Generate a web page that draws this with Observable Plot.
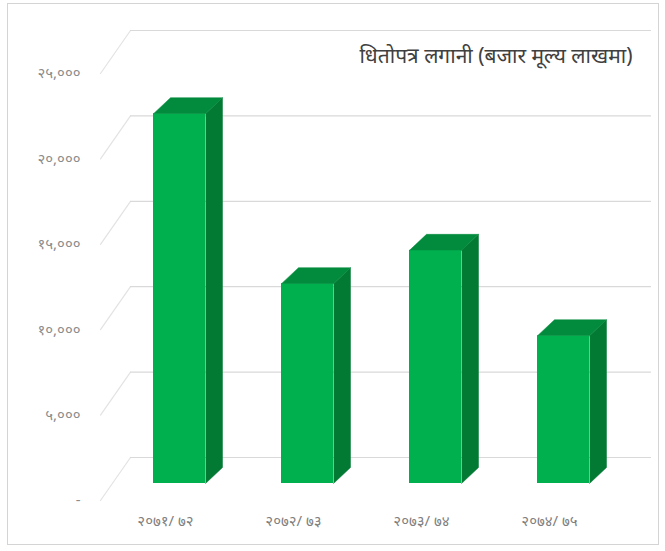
<!DOCTYPE html>
<html><head><meta charset="utf-8">
<script src="https://cdn.jsdelivr.net/npm/d3@7"></script>
<script src="https://cdn.jsdelivr.net/npm/@observablehq/plot@0.6"></script>
<style>
body{margin:0;background:#fff;}
#wrap{position:relative;width:665px;height:551px;overflow:hidden;}
#wrap svg{position:absolute;left:0;top:0;}
#frame{position:absolute;left:7px;top:3px;width:650px;height:540px;border:1.5px solid #d4d4d4;pointer-events:none;}
</style></head><body><div id="wrap"><div id="frame"></div></div>
<script>
// ---- data ----
const categories = ["२०७१/ ७२", "२०७२/ ७३", "२०७३/ ७४", "२०७४/ ७५"];
const values = [21650, 11700, 13650, 8650];
const yTicks = [0, 5000, 10000, 15000, 20000, 25000];
const yTickLabels = ["-", "५,०००", "१०,०००", "१५,०००", "२०,०००", "२५,०००"];
const title = "धितोपत्र लगानी (बजार मूल्य लाखमा)";

// ---- geometry (pseudo-3D offsets, in scale units) ----
const yMax = 25000, yPx = 427;          // y range span in px
const u = yMax / yPx;                    // value units per pixel
const colPx = 128;                       // px per category step
const H = 26 / colPx;                    // half bar width
const DX = 17 / colPx, DY = 16 * u;      // bar depth
const BASE = 17 * u;                     // bar base above front plane
const WX = 30 / colPx, WY = 43 * u;      // back wall offset
const XF = (100 - 115) / colPx - 0.5;    // front edge of side wall
const XR = (650 - 115) / colPx - 0.5;    // right edge of back wall

const diag = yTicks.flatMap(v => [{t: v, x: XF, y: v}, {t: v, x: XF + WX, y: v + WY}]);
const horiz = yTicks.flatMap(v => [{t: v, x: XF + WX, y: v + WY}, {t: v, x: XR, y: v + WY}]);
const sides = values.flatMap((v, i) => [
  {i, x: i + H, y: BASE}, {i, x: i + H + DX, y: BASE + DY},
  {i, x: i + H + DX, y: v + BASE + DY}, {i, x: i + H, y: v + BASE}]);
const tops = values.flatMap((v, i) => [
  {i, x: i - H, y: v + BASE}, {i, x: i - H + DX, y: v + BASE + DY},
  {i, x: i + H + DX, y: v + BASE + DY}, {i, x: i + H, y: v + BASE}]);

const font = "'Noto Sans', 'DejaVu Sans', sans-serif";
const chart = Plot.plot({
  width: 665, height: 551,
  marginLeft: 88, marginRight: 15, marginTop: 20, marginBottom: 40,
  style: {background: "transparent", fontFamily: font},
  x: {domain: [-0.5, 3.5], range: [115, 627], axis: null},
  y: {domain: [0, yMax], range: [500, 500 - yPx], axis: null},
  marks: [
    Plot.line(diag, {x: "x", y: "y", z: "t", stroke: "#e3e3e3", strokeWidth: 1.2}),
    Plot.line(horiz, {x: "x", y: "y", z: "t", stroke: "#d9d9d9", strokeWidth: 1.2}),
    Plot.rect(values, {x1: (d, i) => i - H, x2: (d, i) => i + H, y1: () => BASE, y2: d => d + BASE, fill: "#00b04f"}),
    Plot.line(sides, {x: "x", y: "y", z: "i", fill: "#037a34", stroke: "#037a34", strokeWidth: 0.5}),
    Plot.line(tops, {x: "x", y: "y", z: "i", fill: "#028b3c", stroke: "#028b3c", strokeWidth: 0.5}),
    Plot.text(yTicks, {y: d => d, text: (d, i) => yTickLabels[i], frameAnchor: "left", textAnchor: "end", dx: -8, fill: "#8c8c8c", fontSize: 15}),
    Plot.text(categories, {x: (d, i) => i, text: d => d, frameAnchor: "bottom", dx: -14, dy: 14, fill: "#7f7f7f", fontSize: 15}),
    Plot.text([title], {text: d => d, frameAnchor: "top-right", textAnchor: "end", dx: -18, dy: 28, fill: "#404040", fontSize: 21})
  ]
});
document.getElementById("wrap").appendChild(chart);
</script></body></html>
